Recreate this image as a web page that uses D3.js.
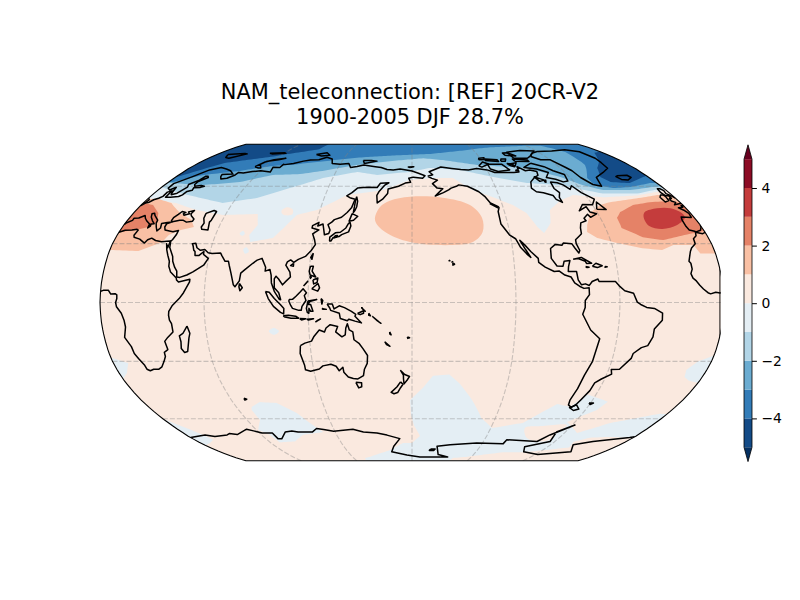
<!DOCTYPE html>
<html>
<head>
<meta charset="utf-8">
<script src="https://cdn.jsdelivr.net/npm/d3@7"></script>
<style>
  body { margin: 0; background: #fff; }
  text { font-family: "DejaVu Sans", sans-serif; }
</style>
</head>
<body>
<div id="chart"></div>
<script>
const width = 800;
const height = 600;
const titleLines = ["NAM_teleconnection: [REF] 20CR-V2", "1900-2005 DJF 28.7%"];

// contour levels and colours of the colour bar (RdBu_r)
const levels = [-5, -4, -3, -2, -1, 0, 1, 2, 3, 4, 5];
const levelColors = ["#134b87", "#327cb8", "#6bacd1", "#b2d5e7", "#e4eef4",
  "#fae9df", "#f9c0a4", "#e58267", "#c43c3c", "#8c0c25"];
const extendColors = ["#053061", "#67001f"];
const cbTicks = [-4, -2, 0, 2, 4];

// Robinson table
const robLat = [0, 5, 10, 15, 20, 25, 30, 35, 40, 45, 50, 55, 60, 65, 70, 75, 80, 85, 90];
const robLen = [1, .9986, .9954, .99, .9822, .973, .96, .9427, .9216, .8962, .8679, .835, .7986, .7597, .7186, .6732, .6213, .5722, .5322];
const robDfe = [0, .062, .124, .186, .248, .31, .372, .434, .4958, .5571, .6176, .6769, .7346, .7903, .8435, .8936, .9394, .9761, 1];

const gridLons = [60, 120, 180, 240, 300];
const gridLats = [-60, -30, 0, 30, 60];

// lower edge of each northern contour band, lon 0..360, [lon, lat]
const north1 = [[0,53.5],[22,50.9],[39.5,47.3],[58.5,44.7],[80.6,45.2],[83.7,39.5],[80.6,34.4],[82.4,30.8],[95.5,32.9],[100.4,38],[106,44.7],[118,47.3],[135,55.2],[159.4,57.9],[178.5,63.6],[196,64.7],[211,64.7],[223,57.9],[235.7,54],[247,49.9],[254,45.7],[258,38.5],[261,35.4],[267,40.5],[270,47.3],[280,52.2],[291.4,55.2],[311,54],[335.5,55],[354.6,57.3],[360,58]];
const north2 = [[0,59.5],[18,56.3],[53,51],[74,53.6],[92.5,59],[112.6,64.7],[137,68.3],[153,66.5],[178,68.3],[194.6,70.7],[218,69.5],[242,65.3],[264.6,61.9],[287.6,60.7],[313,56],[337,56],[355.7,58.5],[360,59]];
const north3 = [[0,62],[28,60.7],[52.6,62.4],[72.7,66.5],[93,67],[109,68.9],[134,72.6],[161,75],[190,77],[207,75.7],[234,72.6],[273,70.7],[293,65.3],[304,60.7],[315.5,57.9],[334.6,57.9],[353,59.6],[360,60]];
const north4 = [[0,62.5],[3,62.4],[19,66.5],[43.5,68.9],[65.6,72],[78.8,72.6],[101,74.6],[131,77.4],[160,78.8],[197,80],[234,83.3],[260,86],[297,88],[315,88],[326,81.6],[323.6,72.6],[312.6,64.7],[313,60.7],[324,59],[337,59.6],[355,61.8],[360,62]];
const north5a = [[0,65],[22,73.8],[57,78.5],[88,84],[90,90],[0,90]];
const north5b = [[352,81],[338,74],[330,70.7],[323.5,65.3],[327,62.4],[340,61.8],[356,65.3],[360,66],[360,82]];

// other patches of the -1..0 band
const southBig = [[131.5,-86.5],[160,-79.2],[172.4,-74.4],[180,-74.4],[186.4,-70],[181.5,-63.8],[179.3,-58],[178.7,-50],[187,-43.5],[193,-37.3],[203,-36.7],[210,-41.3],[220,-50],[230,-59.7],[241,-65.3],[262,-62.4],[268.6,-57.9],[278,-52],[288,-53.6],[294.4,-47],[311,-50.8],[308,-55.2],[294,-61.8],[310,-68.3],[326.7,-62.4],[354.6,-57.3],[360,-57.5],[360,-71],[354.8,-71.1],[340,-70.6],[324.7,-71.1],[316,-73.8],[320,-77.5],[284.7,-81],[266,-81],[222,-86.5],[220,-90],[131,-90]];
const southIndian = [[70.4,-53.6],[78,-51],[89,-51.5],[99,-56.9],[107.5,-65.3],[110.5,-67.7],[93,-69.4],[81.7,-73.5],[68,-74],[67,-69.4],[61.5,-66.4],[69.5,-60.7],[69,-55.2]];
const southAtl = [[0,-60],[8,-65.3],[13.5,-69.4],[15.5,-72.4],[8,-74.5],[0,-76]];
const edgeLeft = [[0,-28],[6,-30],[9,-30.8],[5,-35.8],[0,-39]];
const edgeRight = [[360,-27],[352,-30],[347.5,-34.4],[349,-38],[353,-39.8],[360,-41]];
const blobTibet = [[74.5,35],[76,36.4],[77.6,35.2],[76.5,34]];
const blobIndia = [[79.4,27],[81,28.2],[83,26],[81,24.9]];
const blobIndian = [[96.6,-14.7],[99.5,-13],[102.5,-14.7],[99.5,-16.5]];
// holes back to the 0..1 colour
const holeAsia = [[95,47],[98,48.7],[102,47.5],[103,45],[99,44.5],[96,45.5]];
const holeSouth = [[266,-65.3],[278.5,-64.2],[296,-63.6],[294,-68.3],[294,-72.4],[285,-73.5],[273.5,-71.2]];

// positive bands
const europe1 = [[0,53],[6,53.4],[19,50.9],[30,45.7],[40.5,42.1],[44.4,38.5],[37.2,37],[31.5,34.4],[29.4,30.8],[22.4,28.2],[17.3,26.2],[2,26.7],[0,26.7]];
const europe2 = [[0,51],[8,49.9],[16,45.7],[19.6,41.1],[16,38.5],[9.5,37],[1.4,36],[0,36]];
const atlantic1 = [[289.4,39.5],[295,45.7],[305,49.9],[313,51.4],[338.8,54],[349.6,55.2],[360,55],[360,25],[358,25],[351,25],[348.8,29.3],[336.8,29.3],[329,26.7],[317.5,27.7],[303.5,30.3],[292.5,32.9],[287.6,35.9]];
const atlantic2 = [[310.6,43.2],[315,46.2],[326.8,49.9],[339.7,51.4],[351.7,51.9],[360,51],[360,36.5],[346.3,34.4],[332,31.8],[320.4,33.3],[310,38]];
const atlantic3 = [[328,43.7],[331,46.2],[341,48.2],[349.7,48.2],[354.4,45.7],[353.9,43.2],[345.6,39.5],[335,37.5],[327.8,39]];
const pacific1 = [[156.6,42],[158.9,48.8],[165,52.2],[178.6,54.3],[201,53.8],[218.5,49.9],[224.6,43.2],[223.4,35.9],[216.7,30.8],[204.6,29.3],[178.8,30.8],[163.5,35.9]];

// coastlines [lon, lat], negative lon = west
const coastEurasia = [[0,39.7],[0.7,40.7],[3.2,41.9],[3.1,43],[6,43.1],[8.8,44.4],[10.3,43],[12.3,41.7],[15.7,40],[16,38],[17,39],[16.6,40],[18.4,40.2],[16,41.7],[13.5,43.6],[12.3,45.3],[13.7,45.6],[15,44.5],[19,42],[19.5,40.4],[21,38.5],[22.8,36.5],[24,38],[23,40.3],[26.2,40.8],[29,41.1],[28,41.7],[28,43.3],[29.6,45],[30.7,46.5],[33.5,46],[32.5,45.3],[33.6,44.5],[36.5,45.3],[35,46.3],[38.2,47],[37.5,45.3],[38.5,44.3],[41.5,42.6],[41.5,41.5],[38,41],[35,42],[33,42],[29,41.2],[26.3,40.2],[26.3,38.5],[27.5,37],[30.5,36.5],[33,36.1],[36,36.7],[36,34.5],[35,32],[34.3,31.3],[34.9,29.5],[35.2,28],[38.5,23.5],[39.2,21],[41,18],[42.7,16],[43.2,13],[45,12.8],[48.9,14],[52.2,15.6],[55.3,17.5],[57.8,19],[59.8,22.5],[56.5,24.5],[56.3,26],[54,24],[51.6,24],[51,26],[50,26.7],[48.8,29],[48,30],[50,30.2],[51.5,27.9],[54,26.6],[56.5,27],[59,25.4],[61.5,25],[66.5,25.2],[67.5,23.9],[70,21],[72,21],[72.8,19],[74.5,15],[76.5,9],[77.5,8],[79.8,11],[80.2,15],[82.2,16.6],[86.5,20],[88.8,21.6],[91.5,22.5],[94.3,18],[94.3,16],[97,16.8],[98,14],[98.5,10],[100.5,5.5],[103.5,1.5],[104.2,1.4],[103,5],[100.3,7.5],[100,12],[100.9,13.4],[102.5,12],[105,9],[106.5,10.5],[109.3,13],[108.8,15.5],[106,19],[106.7,20.7],[108.5,21.7],[110.5,20.5],[113,22],[117,23.5],[120,26.5],[122,29.5],[121,32],[119.2,35],[122.5,37],[118,38],[118,39.2],[121.5,40.9],[121.3,39],[124.3,40],[125.3,37.6],[126.5,34.5],[129,35.2],[129.4,37],[127.5,39.7],[129.5,41],[130.8,42.3],[135,43.5],[138,46],[140.2,48.4],[141.3,53],[137.5,53.8],[135,54.8],[138,56.5],[141,59],[145,59.4],[149,59.5],[155,59.3],[156.8,61.7],[163,62],[160,60.5],[156.7,57],[155.7,55],[156.7,51],[160,53],[163,56],[163,58.5],[170.3,60],[175,61.8],[179,62.3],[177.5,64.6],[-179,65.2],[-172,64.5],[-170,66],[-175,67.5],[-180,68.8],[179,69],[170.5,70],[165,69.5],[160,69.7],[155,71],[150,71.5],[140,72.5],[135,71.6],[130,71],[127,73.5],[120,73],[113,73.5],[110,76.5],[104,77.7],[99,76],[92,75.8],[87,75],[80.5,73.5],[74,72.8],[72.8,73],[72.5,71],[66.8,71.2],[68.5,68.2],[60,69],[54,68.5],[48,67.7],[44,68],[43.5,66.5],[40,64.6],[36,64.2],[34,65.5],[33,66.7],[41,67],[36,69],[31,70],[25,71],[18.5,69.5],[12.5,65.5],[5.3,61.5],[5.5,59],[8,58],[10.5,59.5],[12,56.5],[13,55.4],[16,56.2],[18.5,59.5],[17,61],[21,63.5],[22.2,65.8],[24,65.7],[25.3,65],[21.4,62.7],[21.5,61],[23,60],[27,60.5],[30,60],[28,59.4],[23.5,59.2],[24.3,57.8],[21.5,57.2],[21,55.3],[19.5,54.4],[14.3,54],[11,54],[10.5,57.5],[8.3,56.8],[8.6,54.5],[7,53.5],[4.7,52.7],[3.5,51.4],[1.6,50.9],[0,49.5]];
const coastIberia = [[-0.01,49.4],[-1.5,49.7],[-1.5,48.7],[-4.7,48.4],[-2.3,47],[-1.2,45.5],[-1.8,43.4],[-8,43.7],[-9,42],[-9.4,38.7],[-8.8,37],[-6,36.3],[-5.4,36],[-2,36.8],[-0.3,38.5],[-0.01,39.5]];
const coastAfricaEast = [[0,35.8],[3,36.8],[7,37],[10,37.3],[11,36.9],[10.3,34.3],[11,33.3],[15,32.3],[19,30.3],[20,32],[22,32.8],[25,31.6],[29,31],[32,31.2],[34.2,31.3],[34,27.9],[32.6,29.9],[33.8,27],[35.5,24],[37.2,21],[37.5,18.5],[39.2,15.5],[43,12.5],[43.3,11.5],[44.6,10.4],[51,11.9],[51,10.5],[48,5],[45.6,2],[41.5,-1.7],[39.5,-4.5],[39.2,-6.5],[39.5,-9],[40.5,-10.8],[40.7,-15],[37,-17.8],[34.8,-19.8],[35.5,-24],[33,-25.4],[32.8,-27.5],[31,-30],[28.2,-32.8],[25.7,-34],[22.5,-34],[20,-34.8],[18.4,-34],[18.2,-32],[16.3,-28.5],[14.9,-26],[14.4,-22.5],[11.8,-17.8],[13.5,-12.5],[13.2,-9],[12,-5.5],[9.4,-2.2],[9,0],[9.6,2],[9.5,3.9],[8.5,4.5],[6,4.3],[4.4,6.3],[1.5,6.2],[0,5.7]];
const coastAfricaWest = [[-0.01,5.6],[-2,4.8],[-4.5,5.2],[-7.5,4.4],[-9,5],[-11.4,6.9],[-13.3,8.8],[-15,11],[-16.7,12.4],[-17.5,14.7],[-16.2,17],[-16.2,20],[-17,21],[-14.5,26],[-13,27.8],[-9.8,30],[-9.3,32.5],[-6.8,34],[-5.9,35.8],[-2,35.1],[-0.01,35.8]];
const coastAmericas = [[-168,65.7],[-164,66.6],[-166.5,68.4],[-156.5,71.3],[-148,70.4],[-141,69.7],[-135,69.4],[-128,70.3],[-120,69.5],[-115,68],[-108,68],[-100,68],[-96,68.2],[-94,71.5],[-90,69],[-86,69.5],[-81.5,68.5],[-83,66.3],[-87,65],[-92,62.5],[-94.5,59],[-92.5,57],[-88,56.5],[-82.5,55],[-82,52.9],[-79,51.3],[-79,54],[-76.7,56.5],[-78.5,58.8],[-77.5,62.4],[-73,62],[-70,60.8],[-67.5,58.3],[-64.5,60.3],[-61.5,56.5],[-56,53],[-60,50],[-66.5,50.2],[-71,46.9],[-65,49],[-64.5,46.2],[-61,45.3],[-66,43.5],[-67,45],[-70.5,43],[-70,41.7],[-74,40.6],[-75.5,38],[-76.3,35],[-78,33.9],[-81,32],[-81.3,30],[-80.1,26.5],[-81,25.2],[-82.7,27.8],[-84,30],[-89,30.3],[-90,29.2],[-94,29.6],[-97.3,27.5],[-97.8,22.5],[-95,18.6],[-91.5,18.5],[-90.5,21],[-87,21.4],[-88.3,18.3],[-88.8,15.8],[-84,15.8],[-83.5,11.5],[-81.8,9],[-79.5,9.5],[-77.3,8.7],[-75.5,10.7],[-72,12],[-71.5,10.7],[-68,10.7],[-62,10.7],[-60,8.5],[-57,6],[-52,4.7],[-50,0.2],[-48,-1],[-44.5,-2.5],[-40,-3],[-35.2,-5.4],[-35,-9],[-39,-13.5],[-39,-17.5],[-41,-22],[-44.5,-23],[-48.5,-26],[-48.8,-28.5],[-53.5,-34],[-58.4,-34.2],[-57,-36.5],[-62,-39],[-65,-41],[-65.5,-45],[-68,-50],[-69,-52.3],[-71,-53.8],[-74,-52.5],[-75,-50],[-74,-44],[-73.5,-37],[-71.5,-30],[-70,-18.5],[-76,-14],[-81.3,-6],[-80,-2.5],[-80,1],[-77.5,4],[-77.5,7.5],[-80.5,7.2],[-83,8.3],[-85.7,10],[-87.5,13],[-91,14],[-94,16],[-97,15.8],[-102,18],[-105.5,20.5],[-105.5,22.5],[-109.4,26],[-112.5,29.5],[-114.8,31.7],[-112.3,27],[-109.8,23],[-112,24.8],[-115,28],[-117.2,32.5],[-120.5,34.5],[-124.3,40],[-124,46.5],[-122.7,48.5],[-123,49],[-127.5,51],[-130,54.5],[-133,57],[-137,58.8],[-140,60],[-146,60.8],[-148,60],[-152,59],[-154,58],[-158,56.5],[-164,54.7],[-158,58.7],[-162,59],[-165,61.5],[-161,63.5],[-165,64.5],[-168,65.7]];
const coastAntarctica = [[0,-71],[15,-69.4],[21,-70.4],[32.6,-69.4],[35.6,-68.6],[41,-69.2],[53,-66],[57,-67],[62,-68.2],[70,-68.3],[70,-71.7],[73,-71.8],[80.8,-67.7],[86.7,-67],[91,-67.6],[102,-67.7],[107,-65.6],[112,-66.2],[119,-67.2],[134.6,-66],[142,-67.6],[152.4,-68.3],[160,-69.5],[170,-71.7],[164,-76.6],[161,-80.6],[175,-83.4],[188,-85],[216,-85],[205.5,-83],[202,-76.6],[213,-75.6],[235,-74.4],[258,-75],[258.5,-72.4],[285,-73.5],[290,-69.4],[302,-63.6],[293,-67.7],[296,-73.5],[279.6,-77],[284.7,-80.6],[302.5,-83],[329,-80.6],[319.4,-75.6],[332,-73.5],[357,-71],[360,-70.5]];
const coastIslands = [
  [[49.3,-12],[50.4,-15.7],[49.4,-18],[47,-25],[45,-25.5],[43.6,-23.5],[44.3,-20],[44,-17],[46.3,-15.8],[48,-13.7],[49.3,-12]],
  [[47,45.5],[51,47],[53,46.5],[53,42],[52.5,41],[54,37],[50,37.3],[49,38.5],[49.5,40.5],[47.5,43],[47,45.5]],
  [[0,53.6],[1.7,52.7],[1.3,51.2],[0,50.8]],
  [[-0.01,50.8],[-3.5,50.3],[-5.5,50],[-3,51.3],[-5,52],[-4.5,53.3],[-3,53.4],[-3,55],[-5,54.8],[-5.8,56.5],[-5,58.6],[-3,58.6],[-2,57.6],[-3,56],[-1.5,55],[-0.01,53.6]],
  [[-6,53.3],[-6.3,52.2],[-9.7,51.5],[-10,54],[-8,55.2],[-6,55.2],[-5.6,54.5],[-6,53.3]],
  [[-22.7,66],[-14.5,66.3],[-13.6,65],[-18.5,63.5],[-22.7,63.9],[-24.3,65.5],[-22.7,66]],
  [[10.5,79.5],[16,80],[24,80.4],[27,80],[18,77],[14,77.5],[10.5,79.5]],
  [[51.5,71.5],[55.5,70.7],[57.5,70.7],[53.5,73],[56,75],[64,76],[68.5,77],[60,76],[55,74.5],[51.5,71.5]],
  [[92,79.5],[100,81],[105,79],[98,78.5],[92,79.5]],
  [[138,75.5],[145,75.5],[150,75],[140,73.5],[138,75.5]],
  [[178.5,71],[181.5,71.5],[177,71.3],[178.5,71]],
  [[47,80.5],[60,81],[62,80.5],[50,80],[47,80.5]],
  [[142,54.3],[143.3,52],[143.5,49],[142.8,47],[142,46],[142,49],[141.8,52],[142,54.3]],
  [[141.4,45.4],[145.3,44],[143,42],[140.3,41.5],[141.4,45.4]],
  [[141,41],[141.9,39],[141,36],[137,34.6],[135.5,33.6],[132,33],[131,31.3],[130.2,31.4],[130,33.3],[133,35.5],[136,35.8],[139,38],[140,40],[141,41]],
  [[133,34],[134.5,34.2],[134,33.3],[132.6,33],[133,34]],
  [[121.5,25.2],[121,22],[120.2,23],[121.5,25.2]],
  [[110.5,20],[110.5,18.5],[108.8,18.8],[110.5,20]],
  [[120.5,18.5],[122.2,18.5],[121.7,16],[124,13],[120.7,14],[120,16],[120.5,18.5]],
  [[122,7],[125.5,9.7],[126.5,7.5],[125.5,5.8],[124,6.3],[122,7]],
  [[122.5,11.5],[125.3,12.5],[125,10.2],[123,9.5],[122.5,11.5]],
  [[117.2,8.4],[119.5,10.8],[119,10.2],[117.2,8.4]],
  [[120.5,13.4],[121.5,13],[121,12.3],[120.5,13.4]],
  [[95.3,5.6],[97.5,5.2],[100.5,2],[104,-1],[106,-3],[105.8,-5.8],[104,-5],[100,-2],[97,2],[95.3,5.6]],
  [[105.5,-6.8],[108.5,-6.5],[112.7,-7],[114.4,-8],[110,-8],[106.5,-7.4],[105.5,-6.8]],
  [[109,1.5],[111,1.6],[113,3.2],[115.5,5.5],[117,7],[119,5],[117.8,3.5],[118.8,1],[116.5,-2],[116,-4],[114.6,-4],[111,-3],[110,-1.5],[109,0.5],[109,1.5]],
  [[120,0.8],[125,1.5],[121,0.5],[120,-1],[121.5,-1],[122.8,-4.5],[121.5,-4.5],[120.5,-3],[120.4,-5.5],[119.5,-5],[119,-3],[120,0.8]],
  [[131,-0.8],[134,-0.8],[135,-3.3],[138,-1.7],[141,-2.6],[145,-4.5],[147.5,-6],[147,-7],[150.7,-10.4],[147,-9.5],[143.5,-8.5],[142.5,-9.3],[138.5,-8.2],[138,-5.5],[133,-4],[132.5,-2.8],[131,-0.8]],
  [[148.5,-5.6],[152,-4.2],[152,-5.5],[150,-6.2],[148.5,-5.6]],
  [[150.8,-2.6],[153,-4.5],[152.5,-4.4],[150.8,-2.6]],
  [[155,-5.5],[156,-6.8],[155,-6.5],[155,-5.5]],
  [[157,-7],[161,-10],[162,-10.6],[160,-9.4],[157,-7]],
  [[167,-15],[167.8,-16.5],[167,-16],[167,-15]],
  [[164,-20],[167,-22.3],[165,-21.5],[164,-20]],
  [[177.3,-17.5],[178.6,-18],[177.5,-18.3],[177.3,-17.5]],
  [[124,-10],[127,-8.4],[125,-9.3],[124,-10]],
  [[119,-8.5],[123,-8.3],[120,-8.9],[119,-8.5]],
  [[115,-8.2],[118.5,-8.3],[116,-8.9],[115,-8.2]],
  [[128,-3],[130.5,-3.5],[128.5,-3.4],[128,-3]],
  [[127.5,2],[128.5,1],[128,-0.8],[127.5,2]],
  [[114.2,-22],[113.5,-26],[115,-32],[115,-34.3],[118,-35],[123.5,-33.9],[126,-32.3],[131,-31.5],[134,-32.5],[135.5,-34.8],[138,-33],[138.2,-35.5],[140.5,-38],[143.5,-38.8],[146.3,-39],[150,-37.3],[151,-34],[153,-31],[153.5,-27],[151,-23.5],[149,-21],[146,-19],[145.5,-15],[143.5,-14],[142.5,-10.8],[141.5,-13],[141,-16.5],[139,-17.5],[135.5,-15],[136.8,-12.2],[132.5,-11.3],[130,-13],[129,-15],[126,-14],[122.5,-17.5],[121,-19.7],[117,-20.7],[114.2,-22]],
  [[144.7,-40.7],[148.3,-40.9],[148,-43],[146,-43.6],[144.7,-40.7]],
  [[172.9,-34.5],[175.5,-36.7],[178.5,-37.7],[177,-39.5],[175,-41.5],[174.7,-39],[174.7,-37],[172.9,-34.5]],
  [[172.8,-40.5],[174.3,-41.7],[172.7,-43.5],[170.7,-46],[168.3,-46.6],[166.5,-45.9],[170.5,-43],[172.8,-40.5]],
  [[-155.5,20],[-155,19.5],[-156,19],[-156,20],[-155.5,20]],
  [[-158.2,21.6],[-157.7,21.3],[-158.2,21.3],[-158.2,21.6]],
  [[-156.5,20.9],[-156,20.7],[-156.5,20.6],[-156.5,20.9]],
  [[69,-49],[70.5,-49.5],[69,-49.9],[69,-49]],
  [[80,9.7],[81.8,7.5],[80.5,6],[79.8,8],[80,9.7]],
  [[-61,-51.5],[-58,-51.5],[-59.5,-52.3],[-61,-51.5]],
  [[-68.5,-52.5],[-65,-54.7],[-68,-55.5],[-72,-54],[-68.5,-52.5]],
  [[-73,78.2],[-68,80.5],[-60,82],[-45,82.5],[-30,83.5],[-20,81.8],[-18,77],[-20,74],[-22,70.5],[-30,68],[-40,65],[-43,60],[-48,61],[-52,65],[-53,69],[-55,71],[-60,76],[-68,76],[-73,78.2]],
  [[-80,73.7],[-72,71.5],[-68,69],[-62,66.8],[-64,63],[-68,62.5],[-72,64],[-78,65],[-73,68],[-80,70],[-89,71],[-80,73.7]],
  [[-117,73],[-105,73],[-102,69.5],[-112,68.5],[-117,70],[-117,73]],
  [[-125,72],[-120,74.5],[-116,73.2],[-123,71.2],[-125,72]],
  [[-90,77],[-78,77],[-73,78.5],[-62,82.5],[-75,83],[-90,81.5],[-90,77]],
  [[-92,75],[-80,74.8],[-80,75.7],[-92,76.5],[-92,75]],
  [[-100,73],[-95,72],[-92,74],[-100,73]],
  [[-117,75.5],[-106,74.8],[-106,76],[-116,76.5],[-117,75.5]],
  [[-95,79],[-86,78.5],[-90,81],[-95,80.8],[-95,79]],
  [[-87,65.5],[-81,63.5],[-85,62.8],[-87,65.5]],
  [[-104,75],[-100,75],[-98,76.4],[-102,76.5],[-104,75]],
  [[-122,76],[-117,76.2],[-116,77.4],[-121,77],[-122,76]],
  [[-98.5,72],[-96,71.5],[-96,73],[-100,73.5],[-98.5,72]],
  [[-98,69],[-95.5,68.8],[-96.5,69.5],[-98,69]],
  [[-82,62.8],[-80,63.5],[-81,62.3],[-82,62.8]],
  [[-85,22],[-80,23],[-74.5,20],[-77.5,19.9],[-78,21],[-82,22.4],[-85,22]],
  [[-74.3,18.5],[-72,20],[-68.5,18.7],[-71.5,17.8],[-74.3,18.5]],
  [[-78.3,18.3],[-76.3,18],[-77.5,17.8],[-78.3,18.3]],
  [[-67,18.4],[-65.7,18.2],[-67,18],[-67,18.4]],
  [[-128,50.7],[-124,49],[-123.5,48.4],[-128,50.7]],
  [[-59,47.7],[-56,51.5],[-53,47.5],[-59,47.7]],
  [[197,-78.5],[201,-78.5],[200,-79.5],[196,-79.5],[197,-78.5]]
];

const svg = d3
  .select("#chart")
  .append("svg")
  .attr("width", width)
  .attr("height", height)
  .style("display", "block");

// Robinson, centred on 180
const lenScale = d3.scaleLinear().domain(robLat).range(robLen);
const dfeScale = d3.scaleLinear().domain(robLat).range(robDfe);
const xScale = d3.scaleLinear().domain([0, 360]).range([100, 724]);
const yScale = d3.scaleLinear().domain([-1, 1]).range([460.7, 144.3]);
const xMid = xScale(180);
const rightClip = 720;

const wrapLon = (lon) => (lon < 0 ? lon + 360 : lon);
const projX = (d) => xMid + (xScale(wrapLon(d[0])) - xMid) * lenScale(Math.abs(d[1]));
const projY = (d) => yScale(Math.sign(d[1]) * dfeScale(Math.abs(d[1])));

// add points so straight lon/lat edges follow the projection
function densify(ring, closed) {
  const pts = closed ? ring.concat([ring[0]]) : ring;
  const out = [];
  d3.pairs(pts).forEach(([a, b]) => {
    const n = Math.ceil(Math.max(Math.abs(a[0] - b[0]), Math.abs(a[1] - b[1])) / 2);
    d3.range(n).forEach((i) => out.push([a[0] + (b[0] - a[0]) * i / n, a[1] + (b[1] - a[1]) * i / n]));
  });
  out.push(pts[pts.length - 1]);
  return out;
}

const lineStraight = d3.line().x(projX).y(projY);
const lineSmooth = d3.line().x(projX).y(projY).curve(d3.curveCatmullRomClosed);
const capRing = (edge) => edge.concat([[360, 90], [0, 90]]);

const spherePath = lineStraight(densify([[0, -90], [0, 90], [360, 90], [360, -90]], true)) + "Z";

const defs = svg.append("defs");
defs.append("clipPath").attr("id", "sphere").append("path").attr("d", spherePath);
defs.append("clipPath").attr("id", "axes").append("rect")
  .attr("x", 98).attr("y", 142).attr("width", rightClip + 0.7 - 98).attr("height", 322);

const axesG = svg.append("g").attr("clip-path", "url(#axes)");
const mapG = axesG.append("g").attr("clip-path", "url(#sphere)");

mapG.append("path").attr("d", spherePath).attr("fill", levelColors[5]);

// band fills, painted outside in
const edgeBands = [
  [capRing(north1), levelColors[4]], [southBig, levelColors[4]], [southIndian, levelColors[4]],
  [southAtl, levelColors[4]], [edgeLeft, levelColors[4]], [edgeRight, levelColors[4]],
  [capRing(north2), levelColors[3]], [capRing(north3), levelColors[2]], [capRing(north4), levelColors[1]],
  [north5a, levelColors[0]], [north5b, levelColors[0]],
  [europe1, levelColors[6]], [atlantic1, levelColors[6]],
  [europe2, levelColors[7]], [atlantic2, levelColors[7]]
];
const blobBands = [
  [blobTibet, levelColors[4]], [blobIndia, levelColors[4]], [blobIndian, levelColors[4]],
  [holeAsia, levelColors[5]], [holeSouth, levelColors[5]],
  [pacific1, levelColors[6]], [atlantic3, levelColors[8]]
];

mapG.selectAll(".band")
  .data(edgeBands)
  .enter()
  .append("path")
  .attr("class", "band")
  .attr("d", (d) => lineStraight(densify(d[0], true)) + "Z")
  .attr("fill", (d) => d[1]);

mapG.selectAll(".blob")
  .data(blobBands)
  .enter()
  .append("path")
  .attr("class", "blob")
  .attr("d", (d) => lineSmooth(d[0]))
  .attr("fill", (d) => d[1]);

// gridlines
const gridData = gridLons.map((lon) => [[lon, -90], [lon, 90]])
  .concat(gridLats.map((lat) => [[0, lat], [360, lat]]));
mapG.selectAll(".grid")
  .data(gridData)
  .enter()
  .append("path")
  .attr("class", "grid")
  .attr("d", (d) => lineStraight(densify(d, false)))
  .attr("fill", "none")
  .attr("stroke", "#808080")
  .attr("stroke-opacity", 0.4)
  .attr("stroke-width", 1.1)
  .attr("stroke-dasharray", "5,2");

// coastlines
const coasts = [coastEurasia, coastIberia, coastAfricaEast, coastAfricaWest, coastAmericas, coastAntarctica].concat(coastIslands);
mapG.selectAll(".coast")
  .data(coasts)
  .enter()
  .append("path")
  .attr("class", "coast")
  .attr("d", (d) => lineStraight(d))
  .attr("fill", "none")
  .attr("stroke", "#000")
  .attr("stroke-width", 1.5)
  .attr("stroke-linejoin", "round");

// map outline, with the flat cut on the right
axesG.append("path")
  .attr("d", spherePath)
  .attr("fill", "none")
  .attr("stroke", "#000")
  .attr("stroke-width", 1.1);
mapG.append("line")
  .attr("x1", rightClip).attr("x2", rightClip)
  .attr("y1", yScale(-1)).attr("y2", yScale(1))
  .attr("stroke", "#000")
  .attr("stroke-width", 1.1);

// title
svg.selectAll(".title")
  .data(titleLines)
  .enter()
  .append("text")
  .attr("class", "title")
  .attr("x", 410)
  .attr("y", (d, i) => 99 + i * 25)
  .attr("text-anchor", "middle")
  .attr("font-size", "20.9px")
  .text((d) => d);

// colour bar
const cbX = 744;
const cbW = 8;
const cbScale = d3.scaleLinear().domain([-5, 5]).range([447.2, 159.2]);
const cbExtend = 14.4;
const cbG = svg.append("g");

cbG.selectAll(".cb")
  .data(d3.pairs(levels))
  .enter()
  .append("rect")
  .attr("class", "cb")
  .attr("x", cbX)
  .attr("width", cbW)
  .attr("y", (d) => cbScale(d[1]))
  .attr("height", (d) => cbScale(d[0]) - cbScale(d[1]))
  .attr("fill", (d, i) => levelColors[i]);

const topTri = `M${cbX},${cbScale(5)}L${cbX + cbW / 2},${cbScale(5) - cbExtend}L${cbX + cbW},${cbScale(5)}Z`;
const botTri = `M${cbX},${cbScale(-5)}L${cbX + cbW / 2},${cbScale(-5) + cbExtend}L${cbX + cbW},${cbScale(-5)}Z`;
cbG.append("path").attr("d", botTri).attr("fill", extendColors[0]);
cbG.append("path").attr("d", topTri).attr("fill", extendColors[1]);
cbG.append("path")
  .attr("d", `M${cbX},${cbScale(-5)}L${cbX + cbW / 2},${cbScale(-5) + cbExtend}L${cbX + cbW},${cbScale(-5)}L${cbX + cbW},${cbScale(5)}L${cbX + cbW / 2},${cbScale(5) - cbExtend}L${cbX},${cbScale(5)}Z`)
  .attr("fill", "none")
  .attr("stroke", "#000")
  .attr("stroke-width", 0.8);

const cbAxis = d3.axisRight(cbScale).tickValues(cbTicks).tickSize(4.9).tickPadding(4.5).tickFormat(d3.format("d"));
const cbAxisG = svg.append("g").attr("transform", `translate(${cbX + cbW},0)`).call(cbAxis);
cbAxisG.select(".domain").remove();
cbAxisG.selectAll("line").attr("stroke", "#000").attr("stroke-width", 1);
cbAxisG.selectAll("text").attr("font-size", "13.9px").attr("font-family", "DejaVu Sans").attr("fill", "#000");
</script>
</body>
</html>
